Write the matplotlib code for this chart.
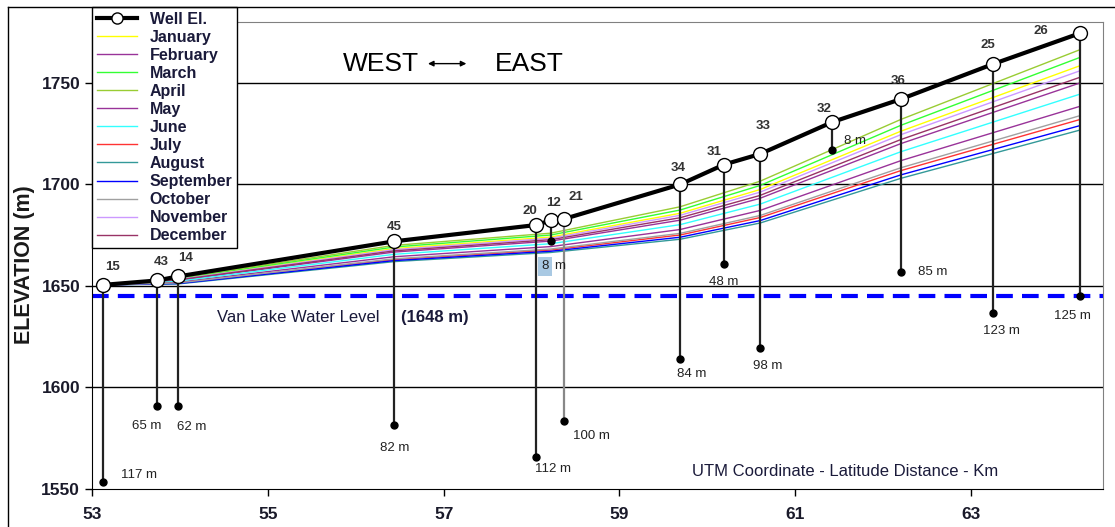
import matplotlib.pyplot as plt
from matplotlib.lines import Line2D

plt.rcParams['font.family'] = ['Liberation Sans', 'DejaVu Sans']

# wells along the profile (west -> east)
well_ids = ['15', '43', '14', '45', '20', '12', '21', '34', '31', '33', '32', '36', '25', '26']
well_x = [53.12, 53.74, 53.98, 56.44, 58.05, 58.22, 58.37, 59.69, 60.19, 60.60, 61.42, 62.20, 63.25, 64.24]
well_elev = [1650.5, 1652.7, 1654.7, 1672.0, 1680.0, 1682.3, 1683.0, 1700.0, 1709.8, 1715.0,
             1730.7, 1742.0, 1759.3, 1774.5]
well_bottom = [1553.4, 1590.8, 1590.8, 1581.5, 1566.0, 1672.0, 1583.6, 1614.0, 1661.0, 1619.3,
               1716.9, 1656.8, 1636.5, 1645.0]
depth_labels = ['117 m', '65 m', '62 m', '82 m', '112 m', '8 m', '100 m', '84 m', '48 m', '98 m',
                '8 m', '85 m', '123 m', '125 m']

# monthly water level profile (m), read at the wells
level_x = [53.12, 53.98, 56.44, 58.22, 59.69, 60.60, 62.20, 64.24]
months = ['January', 'February', 'March', 'April', 'May', 'June', 'July', 'August',
          'September', 'October', 'November', 'December']
levels = {
    'January':   [1650.5, 1653.4, 1668.4, 1674.1, 1685.8, 1697.5, 1726.2, 1758.5],
    'February':  [1650.5, 1652.8, 1666.7, 1672.1, 1682.4, 1693.2, 1720.1, 1750.0],
    'March':     [1650.5, 1653.7, 1669.2, 1675.1, 1687.4, 1699.5, 1729.1, 1762.6],
    'April':     [1650.5, 1654.0, 1670.0, 1676.0, 1689.0, 1701.6, 1732.0, 1766.4],
    'May':       [1650.5, 1651.9, 1664.4, 1669.4, 1677.8, 1687.2, 1711.7, 1738.5],
    'June':      [1650.5, 1652.4, 1665.6, 1670.8, 1680.2, 1690.3, 1716.1, 1744.5],
    'July':      [1650.5, 1651.4, 1663.0, 1667.7, 1675.1, 1683.7, 1706.8, 1732.0],
    'August':    [1650.5, 1651.0, 1662.0, 1666.5, 1673.0, 1681.0, 1703.0, 1726.8],
    'September': [1650.5, 1651.2, 1662.5, 1667.1, 1674.0, 1682.2, 1704.7, 1729.0],
    'October':   [1650.5, 1651.5, 1663.4, 1668.2, 1675.9, 1684.7, 1708.2, 1733.9],
    'November':  [1650.5, 1653.2, 1667.9, 1673.5, 1684.8, 1696.2, 1724.5, 1756.0],
    'December':  [1650.5, 1653.0, 1667.3, 1672.8, 1683.6, 1694.6, 1722.1, 1752.8],
}
month_colors = ['#ffff00', '#993399', '#33ff33', '#99cc33', '#993399', '#33ffff',
                '#ff3333', '#339999', '#0000ff', '#a0a0a0', '#cc99ff', '#993366']
lake_level = 1645.0

# label offsets in pixels (number above well, depth near bottom dot)
num_off = [(10, 18), (4, 18), (7, 18), (0, 14), (-6, 14), (3, 17), (12, 22), (-2, 16),
           (-10, 13), (3, 28), (-8, 13), (-3, 18), (-5, 19), (-39, 2)]
depth_off = [(36, 7), (-10, -20), (14, -21), (0, -23), (17, -12), (0, -25), (27, -15),
             (12, -15), (0, -18), (8, -18), (23, 9), (32, 0), (8, -18), (-8, -20)]

fig = plt.figure(figsize=(11.15, 5.27), dpi=100)
ax = fig.add_axes([92 / 1115, 1 - 489 / 527, (1103 - 92) / 1115, (489 - 22) / 527])

for y in [1600, 1650, 1700, 1750]:
    ax.axhline(y, color='black', lw=1, zorder=1)

ax.axhline(lake_level, color='#0000ff', lw=3, ls=(0, (4, 2.2)), zorder=2)

handles = []
for m, c in zip(months, month_colors):
    h, = ax.plot(level_x, levels[m], color=c, lw=1, zorder=3, label=m)
    handles.append(h)

for i, wid in enumerate(well_ids):
    stem_color = '#888888' if wid == '21' else '#222222'
    ax.plot([well_x[i], well_x[i]], [well_elev[i], well_bottom[i]], color=stem_color, lw=1.6, zorder=4)
    ax.plot(well_x[i], well_bottom[i], 'o', color='black', ms=5, zorder=5)

well_line, = ax.plot(well_x, well_elev, color='black', lw=3, marker='o', ms=10,
                     mfc='white', mec='black', mew=1, zorder=6, label='Well El.')

for i, wid in enumerate(well_ids):
    ax.annotate(wid, (well_x[i], well_elev[i]), xytext=num_off[i], textcoords='offset pixels',
                ha='center', va='center', fontsize=9.5, fontweight='bold', color='#333333', zorder=7)
    if i == 5:
        # the "8" is highlighted in the original
        num, unit = depth_labels[i].split()
        ax.annotate(num, (well_x[i], well_bottom[i]), xytext=(depth_off[i][0] - 6, depth_off[i][1]),
                    textcoords='offset pixels', ha='center', va='center', fontsize=9.5, color='#222222',
                    bbox=dict(boxstyle='square,pad=0.25', fc='#a9c9e3', ec='none'), zorder=7)
        ax.annotate(unit, (well_x[i], well_bottom[i]), xytext=(depth_off[i][0] + 9, depth_off[i][1]),
                    textcoords='offset pixels', ha='center', va='center', fontsize=9.5, color='#222222',
                    zorder=7)
    else:
        ax.annotate(depth_labels[i], (well_x[i], well_bottom[i]), xytext=depth_off[i],
                    textcoords='offset pixels', ha='center', va='center', fontsize=9.5, color='#222222',
                    zorder=7)

ax.text(56.29, 1759.5, 'WEST', ha='center', va='center', fontsize=19)
ax.text(57.98, 1759.5, 'EAST', ha='center', va='center', fontsize=19)
ax.annotate('', xy=(57.29, 1759.5), xytext=(56.79, 1759.5),
            arrowprops=dict(arrowstyle='<|-|>', color='black', lw=1, mutation_scale=8))

ax.text(54.42, 1634.5, 'Van Lake Water Level', ha='left', va='center', fontsize=12, color='#1a1a3a')
ax.text(56.52, 1634.5, '(1648 m)', ha='left', va='center', fontsize=12, fontweight='bold', color='#1a1a3a')
ax.text(61.57, 1558.4, 'UTM Coordinate - Latitude Distance - Km', ha='center', va='center',
        fontsize=12, color='#1a1a3a')

ax.set_xlim(53, 64.5)
ax.set_ylim(1550, 1780)
ax.set_xticks([53, 55, 57, 59, 61, 63])
ax.set_yticks([1550, 1600, 1650, 1700, 1750])
ax.tick_params(axis='both', direction='out', length=5, width=1, labelsize=12.5)
ax.tick_params(axis='x', pad=8)
for lab in ax.get_xticklabels() + ax.get_yticklabels():
    lab.set_fontweight('bold')
    lab.set_color('#1a1a2a')
for s in ['top', 'right']:
    ax.spines[s].set_color('#808080')

fig.text(24.5 / 1115, 1 - 264.5 / 527, 'ELEVATION (m)', rotation=90, ha='center', va='center',
         fontsize=15.5, fontweight='bold', color='#1a1a1a')

# outer frame
fig.add_artist(Line2D([8 / 1115, 8 / 1115], [0, 1 - 7 / 527], transform=fig.transFigure, color='black', lw=1))
fig.add_artist(Line2D([8 / 1115, 1], [1 - 7 / 527, 1 - 7 / 527], transform=fig.transFigure, color='black', lw=1))

leg = ax.legend([well_line] + handles, ['Well El.'] + months, loc='upper left',
                bbox_to_anchor=(92 / 1115, 1 - 7 / 527), bbox_transform=fig.transFigure,
                borderaxespad=0, fancybox=False, framealpha=1, edgecolor='black',
                prop={'size': 11.5, 'weight': 'bold'}, labelspacing=0.19, handlelength=2.5,
                handletextpad=0.8, borderpad=0.3, markerscale=0.8)
leg.get_frame().set_linewidth(1)
leg.set_zorder(20)
for t in leg.get_texts():
    t.set_color('#1a1a3a')

fig.savefig('out.png', dpi=100)
